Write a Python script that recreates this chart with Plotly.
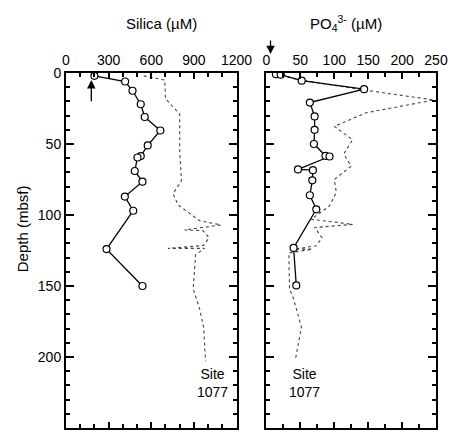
import plotly.graph_objects as go

# Pore-water silica, Site 1077 (measured profile)
silica_depth = [2, 6, 12.5, 22, 31, 40.5, 51, 58.5, 59.5, 69, 76.5, 87, 97, 124, 150]
silica_conc = [200, 416, 468, 526, 554, 664, 575, 526, 503, 484, 538, 414, 473, 285, 538]

# Silica reference profile (dotted)
silica_ref_depth = [2, 5, 18, 29, 54, 76, 85, 93, 104, 107, 110.5, 111, 116, 121.5,
                    123.5, 123.5, 128, 152, 166, 179, 203]
silica_ref_conc = [547, 695, 700, 800, 800, 812, 753, 790, 940, 1090, 835, 964, 1006, 968,
                   718, 975, 912, 895, 940, 968, 982]

# Pore-water phosphate (measured profile)
po4_depth = [0.8, 1.2, 5.4, 11.4, 20.8, 30.6, 40, 50, 58.3, 58.8, 67.9, 68.4, 75.6, 86.1,
             96, 123.2, 149.6]
po4_conc = [14, 21, 52, 144, 64, 71, 71, 70, 87, 93, 46.5, 68.5, 67.6, 64, 73.5, 40, 44]

# Phosphate reference profile (dotted)
po4_ref_depth = [2, 5, 12, 19, 28, 37.6, 47, 57, 65.6, 75, 84, 93.6, 103, 106.6, 108.8,
                 116, 121.6, 124, 124, 126.8, 152, 159, 179, 202]
po4_ref_conc = [22, 51, 144, 247, 147, 100, 127, 114, 125, 100, 103, 93, 66, 127, 71,
                82, 73.5, 41.6, 67.6, 33, 34, 40, 51.5, 42.6]

# Bottom-water values marked with arrows
silica_bw = 178
po4_bw = 6

# axis ranges and tick steps (major, minor)
silica_range, silica_step, silica_minor = [0, 1200], 300, 100
po4_range, po4_step, po4_minor = [0, 250], 50, 25
depth_range, depth_step, depth_minor = [250, 0], 50, 10

W, H = 455, 433
FONT = "Liberation Sans, Arial, sans-serif"
ML, MR, MT, MB = 66, W - 437, 73, 3
PW = W - ML - MR
X1_DOM = [0, 171 / PW]
X2_DOM = [201 / PW, 1]

fig = go.Figure()

marker = dict(symbol="circle", size=7, color="white", line=dict(color="black", width=1.2))
dotted = dict(color="#444", width=1.1, dash="dot")
solid = dict(color="black", width=1.3)

fig.add_trace(go.Scatter(x=silica_ref_conc, y=silica_ref_depth, mode="lines",
                         line=dotted, xaxis="x", yaxis="y", showlegend=False))
fig.add_trace(go.Scatter(x=silica_conc, y=silica_depth, mode="lines+markers",
                         line=solid, marker=marker, xaxis="x", yaxis="y", showlegend=False))
fig.add_trace(go.Scatter(x=po4_ref_conc, y=po4_ref_depth, mode="lines",
                         line=dotted, xaxis="x2", yaxis="y2", showlegend=False))
fig.add_trace(go.Scatter(x=po4_conc, y=po4_depth, mode="lines+markers",
                         line=solid, marker=marker, xaxis="x2", yaxis="y2", showlegend=False))

tickfont = dict(family=FONT, size=14, color="black")


def xaxis_cfg(dom, rng, step, minor_step):
    return dict(domain=dom, range=rng, side="top", tick0=0, dtick=step,
                ticks="inside", ticklen=6, tickwidth=2, tickcolor="black",
                minor=dict(dtick=minor_step, ticks="inside", ticklen=4,
                           tickwidth=1.5, tickcolor="black"),
                showline=True, linewidth=2, linecolor="black", mirror="allticks",
                showgrid=False, zeroline=False, tickfont=tickfont)


def yaxis_cfg(labels):
    return dict(domain=[0, 1], range=depth_range, tick0=0, dtick=depth_step,
                showticklabels=labels,
                ticks="inside", ticklen=8, tickwidth=2, tickcolor="black",
                minor=dict(dtick=depth_minor, ticks="inside", ticklen=4,
                           tickwidth=1.5, tickcolor="black"),
                showline=True, linewidth=2, linecolor="black", mirror="allticks",
                zeroline=False, tickfont=tickfont)


fig.update_layout(
    width=W, height=H,
    margin=dict(l=ML, r=MR, t=MT, b=MB),
    paper_bgcolor="white", plot_bgcolor="white",
    font=dict(family=FONT, color="black"),
    xaxis=dict(anchor="y", **xaxis_cfg(X1_DOM, silica_range, silica_step, silica_minor)),
    yaxis=dict(anchor="x", **yaxis_cfg(True)),
    xaxis2=dict(anchor="y2", **xaxis_cfg(X2_DOM, po4_range, po4_step, po4_minor)),
    yaxis2=dict(anchor="x2", **yaxis_cfg(False)),
)


def px_x(p):
    return (p - ML) / PW


def px_y(p):
    return 1 - (p - MT) / (H - MT - MB)


annotations = [
    dict(text="Silica (\u00b5M)", xref="paper", yref="paper",
         x=px_x(162), y=px_y(23), xanchor="center", yanchor="middle", showarrow=False,
         font=dict(family=FONT, size=15)),
    dict(text="PO<sub>4</sub><sup>3-</sup> (\u00b5M)", xref="paper", yref="paper",
         x=px_x(347), y=px_y(23), xanchor="center", yanchor="middle", showarrow=False,
         font=dict(family=FONT, size=15)),
    dict(text="Depth (mbsf)", xref="paper", yref="paper", textangle=-90,
         x=px_x(22), y=px_y(230), xanchor="center", yanchor="middle", showarrow=False,
         font=dict(family=FONT, size=15)),
    dict(text="Site<br>1077", xref="x", yref="y", x=1030, y=218,
         xanchor="center", yanchor="middle", showarrow=False,
         font=dict(family=FONT, size=14)),
    dict(text="Site<br>1077", xref="x2", yref="y2", x=56, y=218,
         xanchor="center", yanchor="middle", showarrow=False,
         font=dict(family=FONT, size=14)),
    # bottom-water arrows
    dict(text="", xref="x", yref="y", x=silica_bw, y=5, axref="x", ayref="y",
         ax=silica_bw, ay=21, showarrow=True, arrowhead=2, arrowsize=1.3,
         arrowwidth=1.3, arrowcolor="black"),
    dict(text="", xref="x2", yref="paper", x=po4_bw, y=px_y(54),
         ax=0, ay=-15, showarrow=True, arrowhead=2, arrowsize=1.3,
         arrowwidth=1.3, arrowcolor="black"),
]
fig.update_layout(annotations=annotations)

fig.write_html("out.html")
